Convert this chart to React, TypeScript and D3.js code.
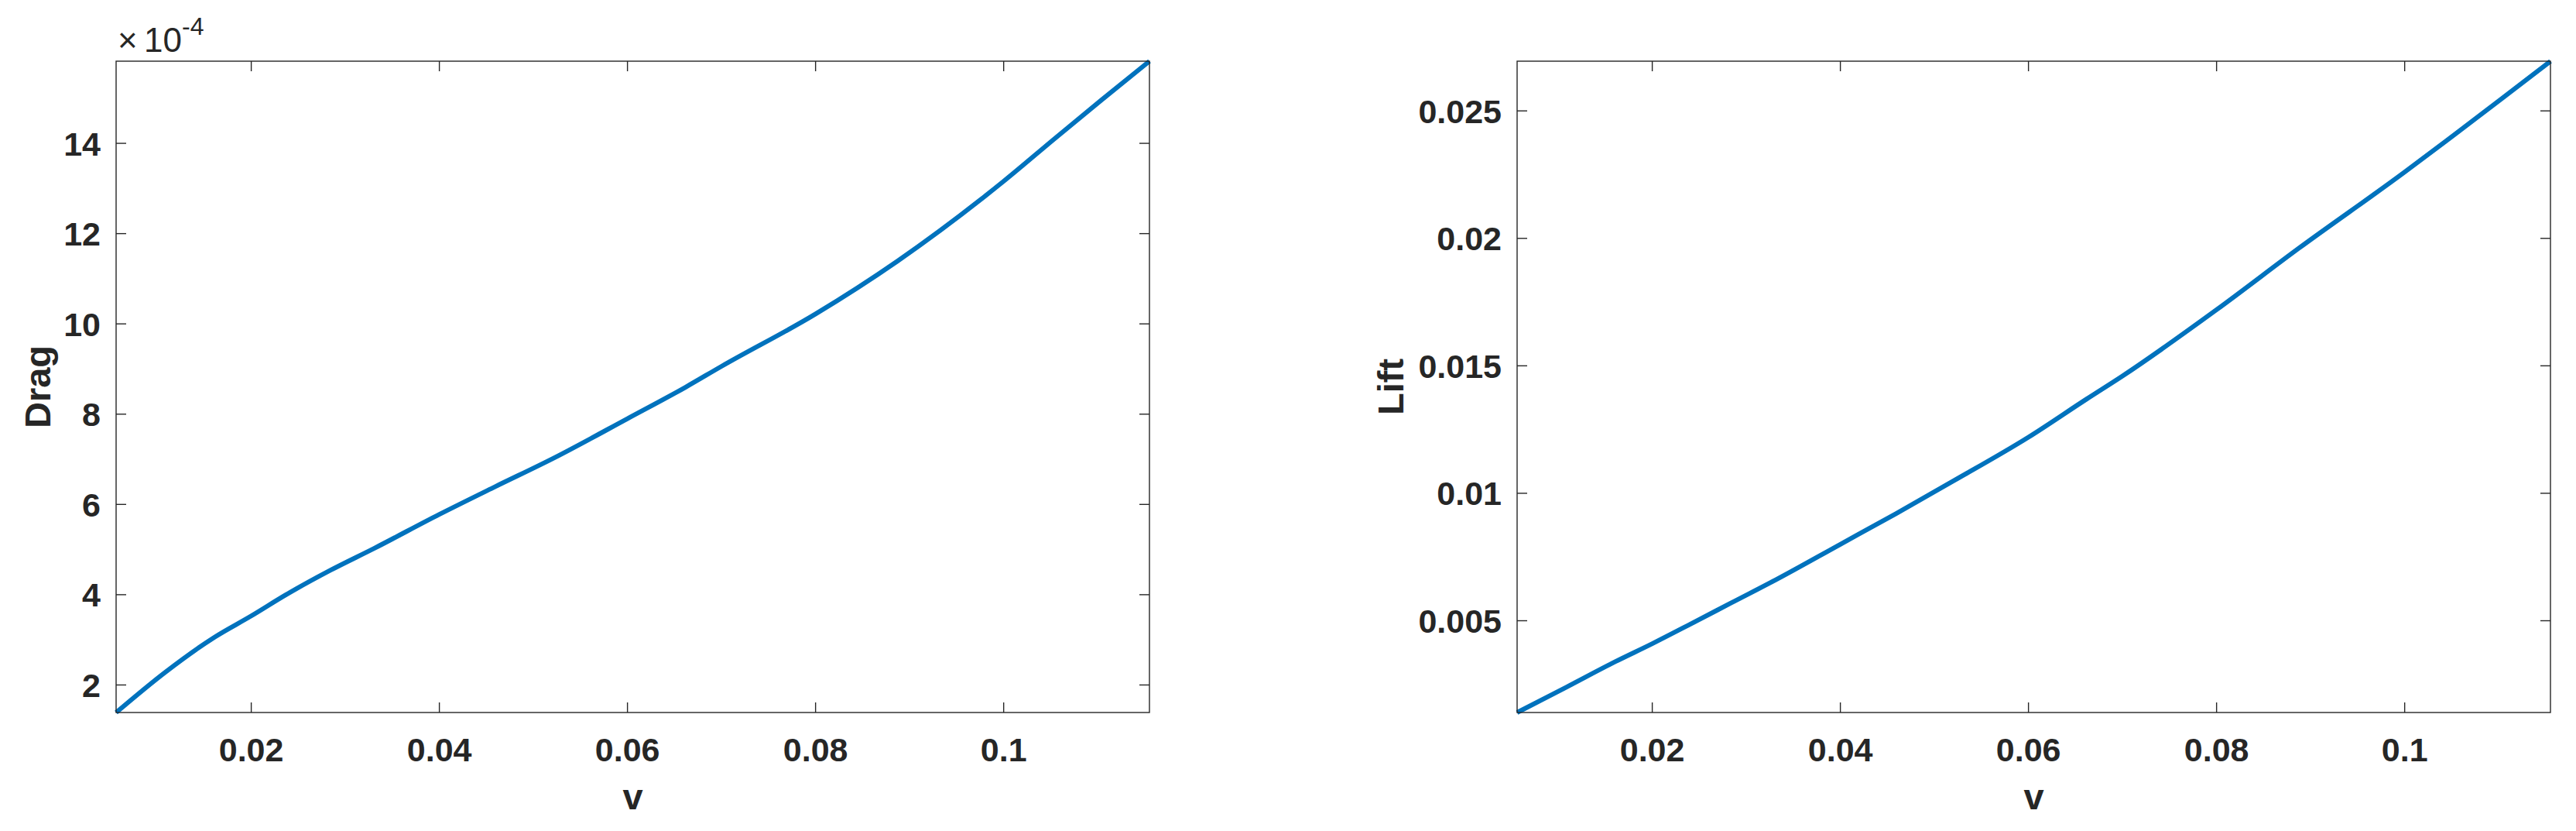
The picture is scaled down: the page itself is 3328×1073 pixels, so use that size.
import React from 'react';
import * as d3 from 'd3';

// shared abscissa
const velocity = [0.00563, 0.0109, 0.0161, 0.02, 0.0237, 0.0284, 0.0331, 0.04, 0.0459, 0.0521, 0.06, 0.0662, 0.07, 0.08, 0.0887, 0.1, 0.1054, 0.1104, 0.1155];
// drag in units of 1e-4 (the axis shows "x10^-4")
const dragE4 = [1.39, 2.29, 3.06, 3.53, 4.0, 4.54, 5.03, 5.78, 6.39, 7.02, 7.9, 8.6, 9.06, 10.22, 11.39, 13.16, 14.1, 14.96, 15.82];
const lift = [0.0014, 0.0024, 0.0034, 0.0041, 0.0048, 0.0057, 0.0066, 0.008, 0.0092, 0.0105, 0.0122, 0.0137, 0.0146, 0.0172, 0.0196, 0.0226, 0.0241, 0.0255, 0.02695];

const vTicks = [0.02, 0.04, 0.06, 0.08, 0.1];
const dragTicks = [2, 4, 6, 8, 10, 12, 14];
const liftTicks = [0.005, 0.01, 0.015, 0.02, 0.025];

const W = 3328;
const H = 1073;
const TOP = 79;
const BOTTOM = 920;
const AX_W = 1335;
const TICK = 13;
const INK = '#262626';
const FONT = '"Liberation Sans", Arial, Helvetica, sans-serif';

function Panel({ left, ys, yTicks, yLabel, yLabelX, exponent }) {
  const right = left + AX_W;
  const x = d3.scaleLinear().domain(d3.extent(velocity)).range([left, right]);
  const y = d3.scaleLinear().domain(d3.extent(ys)).range([BOTTOM, TOP]);
  const line = d3
    .line()
    .x((d, i) => x(velocity[i]))
    .y(d => y(d))
    .curve(d3.curveMonotoneX);

  return (
    <g fontFamily={FONT} fill={INK}>
      <path d={line(ys)} fill="none" stroke="#0072BD" strokeWidth={6} strokeLinejoin="round" />

      <rect x={left} y={TOP} width={AX_W} height={BOTTOM - TOP} fill="none" stroke={INK} strokeWidth={1.4} />

      {vTicks.map(t => (
        <g key={'x' + t}>
          <line x1={x(t)} x2={x(t)} y1={BOTTOM} y2={BOTTOM - TICK} stroke={INK} strokeWidth={1.4} />
          <line x1={x(t)} x2={x(t)} y1={TOP} y2={TOP + TICK} stroke={INK} strokeWidth={1.4} />
          <text x={x(t)} y={983} textAnchor="middle" fontSize={43} fontWeight="bold">
            {String(t)}
          </text>
        </g>
      ))}

      {yTicks.map(t => (
        <g key={'y' + t}>
          <line x1={left} x2={left + TICK} y1={y(t)} y2={y(t)} stroke={INK} strokeWidth={1.4} />
          <line x1={right} x2={right - TICK} y1={y(t)} y2={y(t)} stroke={INK} strokeWidth={1.4} />
          <text x={left - 20} y={y(t) + 15.5} textAnchor="end" fontSize={43} fontWeight="bold">
            {String(t)}
          </text>
        </g>
      ))}

      <text x={(left + right) / 2} y={1045} textAnchor="middle" fontSize={47} fontWeight="bold">
        v
      </text>
      <text
        transform={`translate(${yLabelX},${(TOP + BOTTOM) / 2}) rotate(-90)`}
        textAnchor="middle"
        fontSize={47}
        fontWeight="bold"
      >
        {yLabel}
      </text>

      {exponent && (
        <text y={67} fontSize={44}>
          <tspan x={left + 2}>×</tspan>
          <tspan x={left + 36}>10</tspan>
          <tspan x={left + 85} y={45} fontSize={32}>
            {exponent}
          </tspan>
        </text>
      )}
    </g>
  );
}

export default function App() {
  return (
    <svg
      width={W}
      height={H}
      style={{ position: 'absolute', left: 0, top: 0, background: '#fff', display: 'block' }}
    >
      <rect width={W} height={H} fill="#fff" />
      <Panel left={150} ys={dragE4} yTicks={dragTicks} yLabel="Drag" yLabelX={65} exponent="-4" />
      <Panel left={1960} ys={lift} yTicks={liftTicks} yLabel="Lift" yLabelX={1813} exponent={null} />
    </svg>
  );
}
